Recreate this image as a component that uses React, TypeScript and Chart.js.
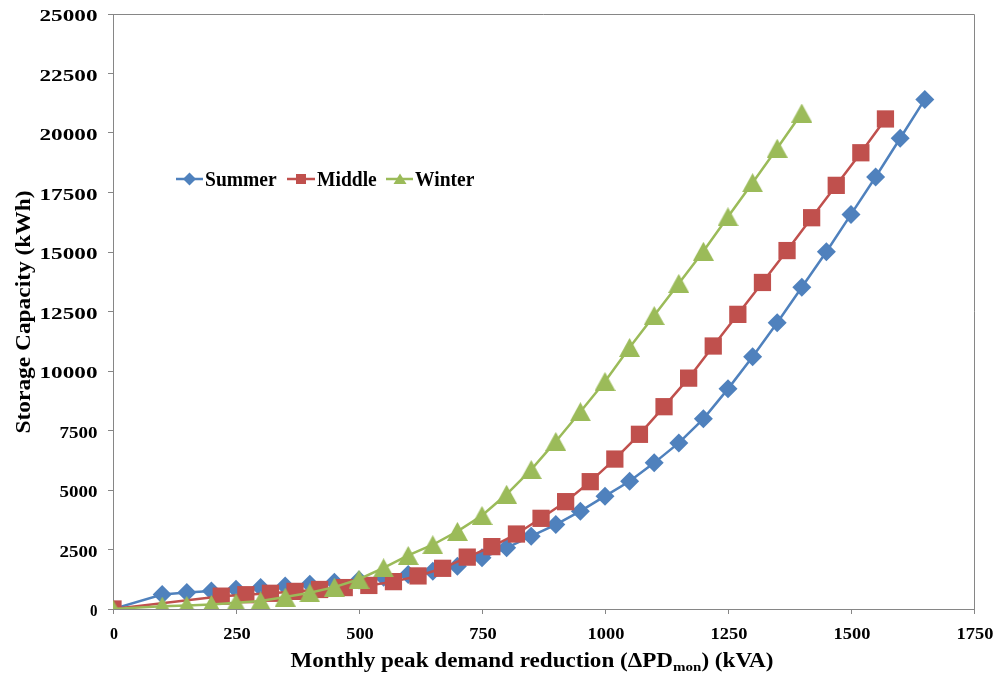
import React, { useEffect, useRef } from "react";
import { Chart, registerables } from "chart.js";

Chart.register(...registerables);

// ---------- data ----------
const summerX = [0, 100, 150, 200, 250, 300, 350, 400, 450, 500, 550, 600, 650, 700, 750, 800, 850, 900, 950, 1000, 1050, 1100, 1150, 1200, 1250, 1300, 1350, 1400, 1450, 1500, 1550, 1600, 1650];
const summerY = [0, 610, 690, 760, 830, 900, 970, 1040, 1120, 1220, 1330, 1450, 1590, 1800, 2150, 2570, 3060, 3550, 4110, 4740, 5370, 6140, 6980, 7990, 9250, 10600, 12030, 13520, 15010, 16580, 18150, 19780, 21410];

const middleX = [0, 220, 270, 320, 370, 420, 470, 520, 570, 620, 670, 720, 770, 820, 870, 920, 970, 1020, 1070, 1120, 1170, 1220, 1270, 1320, 1370, 1420, 1470, 1520, 1570];
const middleY = [0, 540, 600, 660, 740, 820, 900, 990, 1150, 1390, 1710, 2180, 2620, 3150, 3810, 4510, 5350, 6300, 7340, 8500, 9700, 11050, 12380, 13720, 15060, 16440, 17800, 19170, 20590];

const winterX = [0, 100, 150, 200, 250, 300, 350, 400, 450, 500, 550, 600, 650, 700, 750, 800, 850, 900, 950, 1000, 1050, 1100, 1150, 1200, 1250, 1300, 1350, 1400];
const winterY = [0, 120, 150, 190, 260, 340, 500, 680, 920, 1250, 1730, 2250, 2700, 3260, 3930, 4820, 5860, 7040, 8290, 9560, 10990, 12330, 13680, 15030, 16480, 17910, 19360, 20840];

const seriesNames = ["Summer", "Middle", "Winter"];
const seriesColors = ["#4F81BD", "#C0504D", "#9BBB59"];

const xTicks = [0, 250, 500, 750, 1000, 1250, 1500, 1750];
const yTicks = [0, 2500, 5000, 7500, 10000, 12500, 15000, 17500, 20000, 22500, 25000];

const xTitleMain = "Monthly peak demand reduction (\u0394PD";
const xTitleSub = "mon";
const xTitleEnd = ") (kVA)";
const yTitle = "Storage Capacity (kWh)";

// ---------- styling ----------
const FONT = '"Liberation Serif", "Times New Roman", serif';
const AXIS = "#868686";

function makeTriangle(color: string, w: number, h: number) {
  const c = document.createElement("canvas");
  c.width = w;
  c.height = h;
  const g = c.getContext("2d")!;
  g.fillStyle = color;
  g.beginPath();
  g.moveTo(w / 2, 0);
  g.lineTo(w, h);
  g.lineTo(0, h);
  g.closePath();
  g.fill();
  return c;
}

function stretchedText(
  ctx: CanvasRenderingContext2D,
  text: string,
  x: number,
  y: number,
  align: CanvasTextAlign,
  font: string,
  targetWidth: number
) {
  ctx.font = font;
  const w = ctx.measureText(text).width;
  const sx = w > 0 ? targetWidth / w : 1;
  ctx.save();
  ctx.translate(x, y);
  ctx.scale(sx, 1);
  ctx.textAlign = align;
  ctx.textBaseline = "alphabetic";
  ctx.fillText(text, 0, 0);
  ctx.restore();
}

const textPlugin = {
  id: "customText",
  beforeDatasetsDraw(chart: any) {
    const { ctx, chartArea } = chart;
    ctx.save();
    ctx.strokeStyle = AXIS;
    ctx.lineWidth = 1;
    ctx.beginPath();
    ctx.moveTo(chartArea.left, chartArea.top + 0.5);
    ctx.lineTo(chartArea.right + 0.5, chartArea.top + 0.5);
    ctx.lineTo(chartArea.right + 0.5, chartArea.bottom);
    ctx.stroke();
    ctx.restore();
  },
  afterDraw(chart: any) {
    const { ctx } = chart;
    const xs = chart.scales.x;
    const ys = chart.scales.y;
    ctx.save();
    ctx.fillStyle = "#000";

    // y tick labels
    const yFont = `bold 17px ${FONT}`;
    yTicks.forEach((v) => {
      const s = String(v);
      const py = ys.getPixelForValue(v);
      const tw = s.length === 5 ? 58 : s.length === 1 ? 7.5 : s.length * 9.5;
      stretchedText(ctx, s, 97.5, py + 7.3, "right", yFont, tw);
    });

    // x tick labels
    const xFont = `bold 17px ${FONT}`;
    xTicks.forEach((v) => {
      const s = String(v);
      const px = xs.getPixelForValue(v);
      const tw = s.length === 1 ? 8 : s.length * 9.2;
      stretchedText(ctx, s, px + 1, 638.5, "center", xFont, tw);
    });

    // x title with subscript
    const mainFont = `bold 20px ${FONT}`;
    const subFont = `bold 13px ${FONT}`;
    ctx.font = mainFont;
    const w1 = ctx.measureText(xTitleMain).width;
    const w3 = ctx.measureText(xTitleEnd).width;
    ctx.font = subFont;
    const w2 = ctx.measureText(xTitleSub).width;
    const natural = w1 + w2 + w3;
    const target = 483;
    const sx = target / natural;
    const cx = 532;
    const base = 667;
    ctx.save();
    ctx.translate(cx - target / 2, base);
    ctx.scale(sx, 1);
    ctx.textAlign = "left";
    ctx.textBaseline = "alphabetic";
    ctx.font = mainFont;
    ctx.fillText(xTitleMain, 0, 0);
    ctx.font = subFont;
    ctx.fillText(xTitleSub, w1, 4);
    ctx.font = mainFont;
    ctx.fillText(xTitleEnd, w1 + w2, 0);
    ctx.restore();

    // y title (rotated)
    ctx.font = mainFont;
    const yw = ctx.measureText(yTitle).width;
    ctx.save();
    ctx.translate(30, 312);
    ctx.rotate(-Math.PI / 2);
    ctx.scale(243 / yw, 1);
    ctx.textAlign = "center";
    ctx.textBaseline = "alphabetic";
    ctx.fillText(yTitle, 0, 0);
    ctx.restore();

    // legend
    const legFont = `bold 20px ${FONT}`;
    ctx.font = legFont;
    const lsx = 71.7 / ctx.measureText(seriesNames[0]).width;
    const legY = 179;
    const items = [
      { x0: 176, x1: 203, mx: 189.5, tx: 205 },
      { x0: 287, x1: 315, mx: 301, tx: 317 },
      { x0: 386, x1: 413, mx: 400, tx: 415 },
    ];
    items.forEach((it, i) => {
      const col = seriesColors[i];
      ctx.strokeStyle = col;
      ctx.fillStyle = col;
      ctx.lineWidth = 2.5;
      ctx.beginPath();
      ctx.moveTo(it.x0, legY);
      ctx.lineTo(it.x1, legY);
      ctx.stroke();
      ctx.beginPath();
      if (i === 0) {
        const r = 6.5;
        ctx.moveTo(it.mx - r, legY);
        ctx.lineTo(it.mx, legY - r);
        ctx.lineTo(it.mx + r, legY);
        ctx.lineTo(it.mx, legY + r);
      } else if (i === 1) {
        ctx.rect(it.mx - 5, legY - 5, 10, 10);
      } else {
        ctx.moveTo(it.mx, legY - 5.5);
        ctx.lineTo(it.mx + 6.5, legY + 5);
        ctx.lineTo(it.mx - 6.5, legY + 5);
      }
      ctx.closePath();
      ctx.fill();
      ctx.fillStyle = "#000";
      ctx.save();
      ctx.font = legFont;
      ctx.translate(it.tx, legY + 6.6);
      ctx.scale(lsx, 1);
      ctx.textAlign = "left";
      ctx.textBaseline = "alphabetic";
      ctx.fillText(seriesNames[i], 0, 0);
      ctx.restore();
    });

    ctx.restore();
  },
};

export default function App() {
  const ref = useRef<HTMLCanvasElement | null>(null);

  useEffect(() => {
    let chart: Chart | null = null;
    let cancelled = false;
    const build = () => {
      if (cancelled || !ref.current) return;
      const tri = makeTriangle(seriesColors[2], 21, 19);
      const toPts = (xs: number[], ys: number[]) => xs.map((x, i) => ({ x, y: ys[i] }));
      chart = new Chart(ref.current, {
        type: "line",
        data: {
          datasets: [
            {
              label: seriesNames[0],
              data: toPts(summerX, summerY),
              borderColor: seriesColors[0],
              backgroundColor: seriesColors[0],
              borderWidth: 2.5,
              pointStyle: "rectRot",
              pointRadius: 9.5,
              pointBorderWidth: 0,
              pointBackgroundColor: seriesColors[0],
              tension: 0,
              order: 2,
            },
            {
              label: seriesNames[1],
              data: toPts(middleX, middleY),
              borderColor: seriesColors[1],
              backgroundColor: seriesColors[1],
              borderWidth: 2.5,
              pointStyle: "rect",
              pointRadius: 12.2,
              pointBorderWidth: 0,
              pointBackgroundColor: seriesColors[1],
              tension: 0,
              order: 1,
            },
            {
              label: seriesNames[2],
              data: toPts(winterX, winterY),
              borderColor: seriesColors[2],
              backgroundColor: seriesColors[2],
              borderWidth: 2.5,
              pointStyle: tri as any,
              pointRadius: 10,
              pointBorderWidth: 0,
              tension: 0,
              order: 0,
            },
          ],
        },
        options: {
          responsive: false,
          animation: false,
          devicePixelRatio: 1,
          layout: { padding: { left: 0, top: 14, right: 28, bottom: 0 } },
          plugins: {
            legend: { display: false },
            tooltip: { enabled: false },
          },
          scales: {
            x: {
              type: "linear",
              min: 0,
              max: 1750,
              afterBuildTicks: (s: any) => {
                s.ticks = xTicks.map((v) => ({ value: v }));
              },
              afterFit: (s: any) => {
                s.height = 72;
              },
              ticks: { display: false },
              grid: { drawOnChartArea: false, drawTicks: true, tickLength: 5, color: AXIS, lineWidth: 1 },
              border: { display: true, color: AXIS, width: 1 },
            },
            y: {
              type: "linear",
              min: 0,
              max: 25000,
              afterBuildTicks: (s: any) => {
                s.ticks = yTicks.map((v) => ({ value: v }));
              },
              afterFit: (s: any) => {
                s.width = 113;
              },
              ticks: { display: false },
              grid: { drawOnChartArea: false, drawTicks: true, tickLength: 5, color: AXIS, lineWidth: 1 },
              border: { display: true, color: AXIS, width: 1 },
            },
          },
        },
        plugins: [textPlugin],
      });
    };
    const fontsApi = (document as any).fonts;
    if (fontsApi && fontsApi.load) {
      Promise.all([
        fontsApi.load(`bold 20px "Liberation Serif"`),
        fontsApi.load(`bold 13px "Liberation Serif"`),
      ]).then(build, build);
    } else {
      build();
    }
    return () => {
      cancelled = true;
      if (chart) chart.destroy();
    };
  }, []);

  return (
    <canvas
      ref={ref}
      width={1002}
      height={681}
      style={{ position: "fixed", left: 0, top: 0, width: "1002px", height: "681px", background: "#fff" }}
    />
  );
}
